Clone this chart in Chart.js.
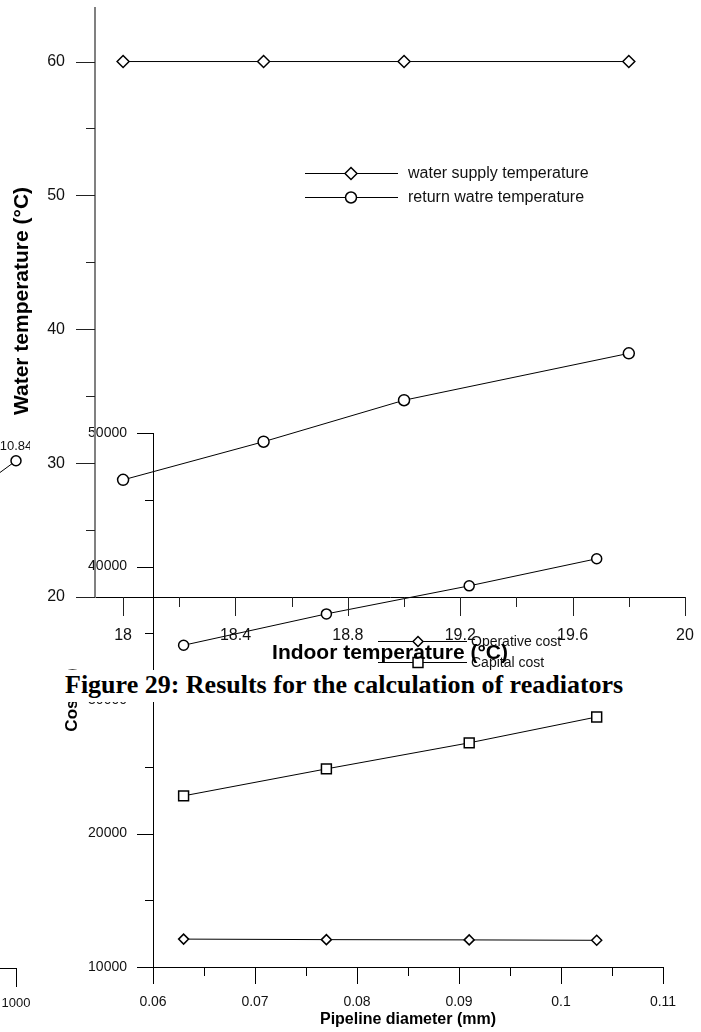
<!DOCTYPE html>
<html>
<head>
<meta charset="utf-8">
<script src="https://cdn.jsdelivr.net/npm/chart.js@4.4.1/dist/chart.umd.min.js"></script>
<style>
  html, body { margin: 0; padding: 0; background: #fff; }
  #wrap { position: relative; width: 701px; height: 1032px; overflow: hidden; background: #fff; }
  canvas { position: absolute; }
  #caption {
    position: absolute; left: 59px; top: 670px; height: 32px; line-height: 32px;
    padding: 0 6px; background: #fff; white-space: nowrap; z-index: 5;
    font: bold 26px "Liberation Serif", "Times New Roman", serif; color: #000;
  }
</style>
</head>
<body>
<div id="wrap">
  <canvas id="fragChart" width="230" height="632" style="left:-200px;top:400px;width:230px;height:632px"></canvas>
  <canvas id="costChart" width="701" height="632" style="left:0;top:400px;width:701px;height:632px"></canvas>
  <canvas id="tempChart" width="701" height="700" style="left:0;top:0;width:701px;height:700px"></canvas>
  <div id="caption">Figure 29: Results for the calculation of readiators</div>
</div>
<script>
// water temperature vs indoor temperature
const indoorTemp = [18, 18.5, 19, 19.8];
const supplyTemp = [60, 60, 60, 60];
const returnTemp = [28.75, 31.6, 34.7, 38.2];
const tempXTicks = [18, 18.4, 18.8, 19.2, 19.6, 20];
const tempYTicks = [20, 30, 40, 50, 60];

// cost vs pipeline diameter
const pipeDiameter = [0.063, 0.077, 0.091, 0.1035];
const operativeCost = [12090, 12050, 12030, 12000];
const capitalCost = [22820, 24840, 26790, 28730];
const totalCost = [34100, 36450, 38550, 40580];
const costXTicks = [0.06, 0.07, 0.08, 0.09, 0.1, 0.11];
const costYTicks = [10000, 20000, 30000, 40000, 50000];

// piece of another figure at the left edge
const fragX = [900, 1000];
const fragY = [9.2, 10.84];
const fragXTicks = [1000];

const SANS = '"Liberation Sans", Arial, Helvetica, sans-serif';

function pts(xs, ys) {
  return xs.map((x, i) => ({ x: x, y: ys[i] }));
}

function mids(arr) {
  const out = [];
  for (let i = 0; i < arr.length - 1; i++) out.push((arr[i] + arr[i + 1]) / 2);
  return out;
}

function series(label, xs, ys, style, r) {
  return {
    label: label,
    data: pts(xs, ys),
    borderColor: '#000',
    borderWidth: 1,
    pointStyle: style,
    pointRadius: r,
    pointBorderWidth: 1.5,
    pointBackgroundColor: '#fff',
    pointBorderColor: '#000',
    fill: false,
    tension: 0,
    clip: false
  };
}

// fixed box size, no automatic label padding
function fitTo(prop, size) {
  return s => {
    s[prop] = size;
    s.paddingTop = 0; s.paddingBottom = 0; s.paddingLeft = 0; s.paddingRight = 0;
  };
}

function axis(min, max, ticks, size, fit, pad, borderColor, borderWidth, tickLen) {
  return {
    type: 'linear',
    min: min,
    max: max,
    afterFit: fit,
    afterBuildTicks: s => { s.ticks = ticks.map(v => ({ value: v })); },
    grid: { display: true, drawOnChartArea: false, drawTicks: true, tickLength: tickLen, color: 'rgba(0,0,0,0)' },
    border: { display: true, color: borderColor, width: borderWidth },
    ticks: {
      autoSkip: false, maxRotation: 0, padding: pad, color: '#111',
      font: { family: SANS, size: size },
      callback: v => String(v)
    }
  };
}

function marker(ctx, style, x, y, r) {
  ctx.beginPath();
  if (style === 'circle') {
    ctx.arc(x, y, r, 0, Math.PI * 2);
  } else if (style === 'rectRot') {
    ctx.moveTo(x, y - r); ctx.lineTo(x + r, y); ctx.lineTo(x, y + r); ctx.lineTo(x - r, y); ctx.closePath();
  } else {
    const s = r * Math.SQRT1_2;
    ctx.rect(x - s, y - s, 2 * s, 2 * s);
  }
  ctx.fillStyle = '#fff';
  ctx.fill();
  ctx.lineWidth = 1.5;
  ctx.strokeStyle = '#000';
  ctx.stroke();
}

// tick marks, axis titles, legend and value labels
function decor(spec) {
  return {
    id: 'decor',
    afterDraw(chart) {
      const ctx = chart.ctx;
      ctx.save();
      ctx.strokeStyle = spec.tickColor || '#000';
      ctx.lineWidth = 1;
      (spec.ticks || []).forEach(t => {
        const sc = chart.scales[t.axis];
        t.values.forEach(v => {
          const p = Math.round(sc.getPixelForValue(v)) + 0.5;
          ctx.beginPath();
          if (t.axis === 'x') {
            ctx.moveTo(p, sc.top); ctx.lineTo(p, sc.top + t.len);
          } else {
            ctx.moveTo(sc.right - t.len, p); ctx.lineTo(sc.right, p);
          }
          ctx.stroke();
        });
      });

      ctx.fillStyle = '#000';
      if (spec.xTitle) {
        ctx.font = spec.xTitle.font;
        ctx.textAlign = 'center';
        ctx.textBaseline = 'middle';
        ctx.fillText(spec.xTitle.text, spec.xTitle.x, spec.xTitle.y);
      }
      if (spec.yTitle) {
        ctx.save();
        ctx.translate(spec.yTitle.x, spec.yTitle.y);
        ctx.rotate(-Math.PI / 2);
        ctx.font = spec.yTitle.font;
        ctx.textAlign = 'center';
        ctx.textBaseline = 'middle';
        ctx.fillText(spec.yTitle.text, 0, 0);
        ctx.restore();
      }

      if (spec.legend) {
        const lg = spec.legend;
        chart.data.datasets.slice(0, lg.count).forEach((ds, i) => {
          const y = lg.y + i * lg.dy;
          ctx.beginPath();
          ctx.strokeStyle = '#000';
          ctx.lineWidth = 1;
          ctx.moveTo(lg.x0, y + 0.5); ctx.lineTo(lg.x1, y + 0.5);
          ctx.stroke();
          marker(ctx, ds.pointStyle, lg.xm, y + 0.5, ds.pointRadius);
          ctx.fillStyle = '#111';
          ctx.font = lg.font;
          ctx.textAlign = 'left';
          ctx.textBaseline = 'middle';
          ctx.fillText(ds.label, lg.xt, y + 1);
        });
      }

      if (spec.valueLabel) {
        const vl = spec.valueLabel;
        const ds = chart.data.datasets[vl.dataset];
        const pt = ds.data[vl.index];
        const px = chart.scales.x.getPixelForValue(pt.x);
        const py = chart.scales.y.getPixelForValue(pt.y);
        ctx.font = vl.font;
        ctx.fillStyle = '#111';
        ctx.textAlign = 'center';
        ctx.textBaseline = 'middle';
        ctx.fillText(String(pt.y), px, py + vl.dy);
      }
      ctx.restore();
    }
  };
}

const baseOptions = {
  responsive: false,
  animation: false,
  events: [],
  plugins: { legend: { display: false }, tooltip: { enabled: false } }
};

// left edge fragment
new Chart(document.getElementById('fragChart'), {
  type: 'line',
  data: { datasets: [series('fragment', fragX, fragY, 'circle', 5)] },
  options: Object.assign({}, baseOptions, {
    layout: { padding: { top: 0, right: 14, left: 0, bottom: 0 } },
    scales: {
      x: axis(800, 1000, fragXTicks, 13, fitTo('height', 64), 9, '#000', 1, 19),
      y: { type: 'linear', min: 0, max: 12, display: false }
    }
  }),
  plugins: [decor({
    ticks: [{ axis: 'x', values: fragXTicks, len: 19 }],
    valueLabel: { dataset: 0, index: 1, dy: -14, font: '13px ' + SANS }
  })]
});

// cost chart
new Chart(document.getElementById('costChart'), {
  type: 'line',
  data: {
    datasets: [
      series('Operative cost', pipeDiameter, operativeCost, 'rectRot', 5),
      series('Capital cost', pipeDiameter, capitalCost, 'rect', 7),
      series('Total cost', pipeDiameter, totalCost, 'circle', 5)
    ]
  },
  options: Object.assign({}, baseOptions, {
    layout: { padding: { top: 33, right: 38, left: 0, bottom: 0 } },
    scales: {
      x: axis(0.06, 0.11, costXTicks, 14, fitTo('height', 65), 10, '#000', 1, 17),
      y: axis(10000, 50000, costYTicks, 14, fitTo('width', 153), 10, '#000', 1, 16)
    }
  }),
  plugins: [decor({
    ticks: [
      { axis: 'x', values: costXTicks, len: 17 },
      { axis: 'x', values: mids(costXTicks), len: 9 },
      { axis: 'y', values: costYTicks, len: 16 },
      { axis: 'y', values: mids(costYTicks), len: 8 }
    ],
    xTitle: { text: 'Pipeline diameter (mm)', x: 408, y: 620, font: 'bold 16px ' + SANS },
    yTitle: { text: 'Cost (€)', x: 72, y: 300, font: 'bold 17px ' + SANS },
    legend: { count: 2, x0: 378, x1: 467, xm: 418, xt: 471, y: 241, dy: 21, font: '14px ' + SANS }
  })]
});

// water temperature chart
new Chart(document.getElementById('tempChart'), {
  type: 'line',
  data: {
    datasets: [
      series('water supply temperature', indoorTemp, supplyTemp, 'rectRot', 6),
      series('return watre temperature', indoorTemp, returnTemp, 'circle', 5.5)
    ]
  },
  options: Object.assign({}, baseOptions, {
    layout: { padding: { top: 8, right: 16, left: 0, bottom: 0 } },
    scales: {
      x: axis(17.9, 20, tempXTicks, 16, fitTo('height', 103), 10, '#000', 1, 19),
      y: axis(20, 64, tempYTicks, 16, fitTo('width', 95), 11, '#808080', 2, 19)
    }
  }),
  plugins: [decor({
    tickColor: '#222',
    ticks: [
      { axis: 'x', values: tempXTicks, len: 19 },
      { axis: 'x', values: mids(tempXTicks), len: 10 },
      { axis: 'y', values: tempYTicks, len: 19 },
      { axis: 'y', values: mids(tempYTicks), len: 9 }
    ],
    xTitle: { text: 'Indoor temperature (°C)', x: 390, y: 653, font: 'bold 21px ' + SANS },
    yTitle: { text: 'Water temperature (°C)', x: 22, y: 301, font: 'bold 21px ' + SANS },
    legend: { count: 2, x0: 305, x1: 398, xm: 351, xt: 408, y: 173, dy: 24, font: '16px ' + SANS }
  })]
});
</script>
</body>
</html>
